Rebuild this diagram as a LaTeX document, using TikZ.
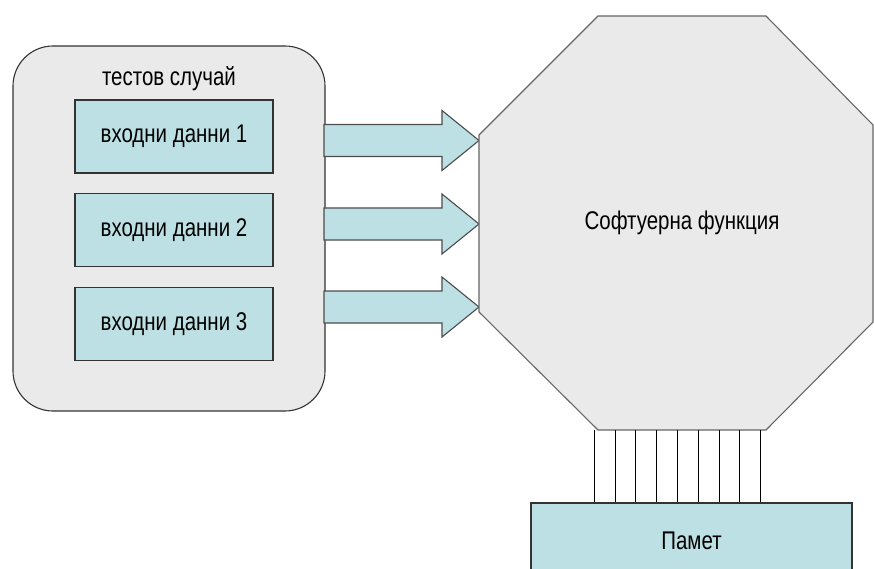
\documentclass[tikz,border=0pt]{standalone}
\usepackage{fontspec}
\setmainfont{Liberation Sans}[FakeStretch=0.8]
\usetikzlibrary{positioning}
\definecolor{boxteal}{RGB}{188,224,227}
\definecolor{casegray}{RGB}{234,234,234}

\begin{document}
\begin{tikzpicture}[x=1pt, y=-1pt, line width=1.1pt, node distance=19.5pt,
	font=\fontsize{25.6}{30}\selectfont,
	case/.style={draw=black!80, fill=casegray, rounded corners=40pt, minimum width=312pt, minimum height=365pt},
	input/.style={draw=black!80, fill=boxteal, minimum width=198pt, minimum height=73pt, inner sep=0pt},
	inarrow/.style={draw=black!70, fill=boxteal, line join=miter},
	func/.style={draw=black!60, fill=casegray, line join=miter},
	wire/.style={draw=black, line width=1pt}]
	\clip (0,0) rectangle (874,569);

	% test case with its inputs
	\node[case] (case) at (169,228.5) {};
	\node (title) at (169,79) {тестов случай};
	\node[input] (in1) at (174,136.5) {входни данни 1};
	\node[input, below = of in1] (in2) {входни данни 2};
	\node[input, below = of in2] (in3) {входни данни 3};

	% inputs going into the function
	\foreach \y in {140.5,224,307}
		\draw[inarrow] (324,\y-16) -- (442,\y-16) -- (442,\y-30) -- (479,\y)
			-- (442,\y+30) -- (442,\y+16) -- (324,\y+16) -- cycle;

	% the function
	\draw[func] (598,16) -- (766,16) -- (873,125) -- (873,322) -- (766,430)
		-- (598,430) -- (479,312) -- (479,135) -- cycle;
	\node (func) at (682,223) {Софтуерна функция};
	\coordinate (fbot) at (677.5,430);

	% memory and the bus
	\node[input, minimum width=321pt, minimum height=76pt] (mem) at (691.5,541) {Памет};
	\foreach \i in {-4,...,4}
		\draw[wire] ([xshift=20.8*\i pt]fbot) -- ([xshift=20.8*\i pt]fbot |- mem.north);
\end{tikzpicture}
\end{document}
